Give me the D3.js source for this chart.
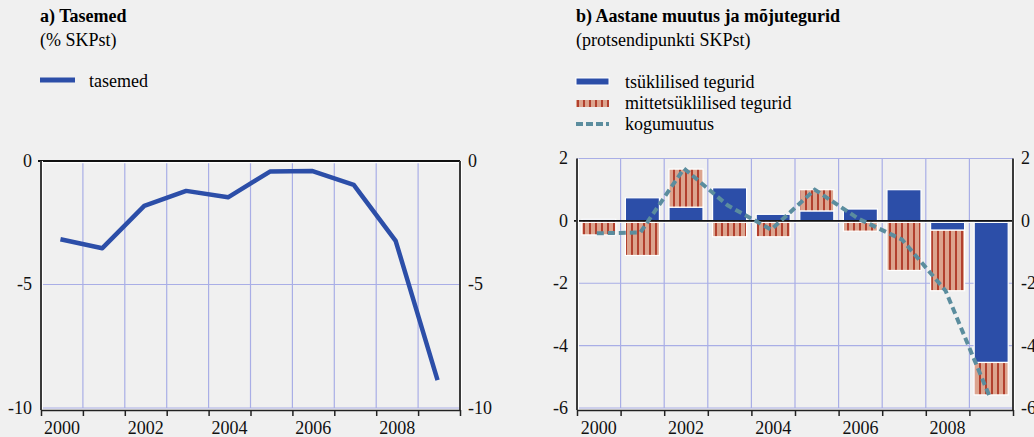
<!DOCTYPE html>
<html>
<head>
<meta charset="utf-8">
<script src="https://cdn.jsdelivr.net/npm/d3@7"></script>
<style>
  body { margin: 0; background: #f0f0f0; }
  svg { display: block; font-family: "Liberation Serif", "Times New Roman", serif; }
</style>
</head>
<body>
<div id="chart"></div>
<script>
// data
var years = [2000, 2001, 2002, 2003, 2004, 2005, 2006, 2007, 2008, 2009];
var yearLabels = [2000, 2002, 2004, 2006, 2008];
var tasemed = [-3.17, -3.53, -1.82, -1.21, -1.47, -0.43, -0.40, -0.97, -3.23, -8.87];
var tsyklilised = [0.05, 0.74, 0.44, 1.06, 0.21, 0.32, 0.38, 1.00, -0.30, -4.54];
var mittetsyklilised = [-0.45, -1.11, 1.22, -0.51, -0.51, 0.68, -0.33, -1.59, -1.94, -1.04];
var kogumuutus = [-0.40, -0.37, 1.68, 0.50, -0.28, 1.00, 0.07, -0.60, -2.24, -5.60];
var leftTicks = [0, -5, -10];
var rightTicks = [2, 0, -2, -4, -6];

var blue = "#2c4ea8",
    grid = "#a9aee6",
    dash = "#5b8d9e";

var svg = d3.select("#chart")
  .append("svg")
    .attr("width", 1034)
    .attr("height", 437);

// hatch for the non-cyclical bars
var pat = svg.append("defs").append("pattern")
    .attr("id", "hatch")
    .attr("patternUnits", "userSpaceOnUse")
    .attr("width", 6)
    .attr("height", 6);
pat.append("rect").attr("width", 6).attr("height", 6).attr("fill", "#dca48e");
pat.append("rect").attr("x", 1).attr("width", 2).attr("height", 6).attr("fill", "#b2402e");

// shared frame drawing: grid, side axes, bottom axis with year labels
function frame(g, x, xl, y, ticks, x0, x1, yTop, yBot) {
  // vertical grid at category boundaries
  g.append("g").selectAll("line")
    .data(d3.range(2001, 2010))
    .enter().append("line")
      .attr("x1", function(d) { return xl(d); })
      .attr("x2", function(d) { return xl(d); })
      .attr("y1", yTop)
      .attr("y2", yBot)
      .attr("stroke", grid)
      .attr("stroke-width", 1.2);

  g.append("g").selectAll("line")
    .data(ticks.filter(function(d) { return d != 0; }))
    .enter().append("line")
      .attr("x1", x0)
      .attr("x2", x1)
      .attr("y1", function(d) { return y(d); })
      .attr("y2", function(d) { return y(d); })
      .attr("stroke", grid)
      .attr("stroke-width", 1.2);
}

function sideAxes(g, xl, y, ticks, x0, x1, yTop, yBot) {
  var axisY = yBot + 2;
  [x0, x1].forEach(function(xx) {
    g.append("line")
      .attr("x1", xx + 1.5).attr("x2", xx + 1.5)
      .attr("y1", yTop).attr("y2", axisY)
      .attr("stroke", "#ffffff").attr("stroke-width", 1);
    g.append("line")
      .attr("x1", xx).attr("x2", xx)
      .attr("y1", yTop).attr("y2", axisY)
      .attr("stroke", "#3a3a3a").attr("stroke-width", 2);
  });

  // bottom axis
  var bottom = g.append("g")
      .attr("transform", "translate(0," + axisY + ")")
      .call(d3.axisBottom(xl).tickValues(d3.range(2000, 2011)).tickFormat("").tickSize(6).tickSizeOuter(0));
  bottom.select(".domain").attr("stroke", "#222").attr("stroke-width", 1.5);
  bottom.selectAll(".tick line").attr("stroke", "#222").attr("stroke-width", 1.5);

  g.append("g").selectAll("text")
    .data(yearLabels)
    .enter().append("text")
      .attr("x", function(d) { return xl(d + 0.5); })
      .attr("y", 434)
      .attr("text-anchor", "middle")
      .style("font-size", "18px")
      .attr("fill", "#111")
      .text(function(d) { return d; });

  // y labels on both sides
  g.append("g").selectAll("text")
    .data(ticks)
    .enter().append("text")
      .attr("x", x0 - 9)
      .attr("y", function(d) { return y(d); })
      .attr("dy", "0.33em")
      .attr("text-anchor", "end")
      .style("font-size", "18px")
      .attr("fill", "#111")
      .text(function(d) { return d; });

  g.append("g").selectAll("text")
    .data(ticks)
    .enter().append("text")
      .attr("x", x1 + 8)
      .attr("y", function(d) { return y(d); })
      .attr("dy", "0.33em")
      .style("font-size", "18px")
      .attr("fill", "#111")
      .text(function(d) { return d; });
}

function zeroLine(g, y, x0, x1) {
  g.append("line")
    .attr("x1", x0).attr("x2", x1)
    .attr("y1", y(0) + 1.6).attr("y2", y(0) + 1.6)
    .attr("stroke", "#ffffff").attr("stroke-width", 1.2);
  g.append("line")
    .attr("x1", x0 - 3).attr("x2", x1)
    .attr("y1", y(0)).attr("y2", y(0))
    .attr("stroke", "#111").attr("stroke-width", 1.8);
}

// ---------- a) Tasemed ----------
var L = {x0: 41, x1: 460, yTop: 161, yBot: 408};
var xa = d3.scaleBand().domain(years).range([L.x0, L.x1]);
var xal = d3.scaleLinear().domain([2000, 2010]).range([L.x0, L.x1]);
var ya = d3.scaleLinear().domain([-10, 0]).range([L.yBot, L.yTop]);

var ga = svg.append("g");
frame(ga, xa, xal, ya, leftTicks, L.x0, L.x1, L.yTop, L.yBot);

ga.append("path")
  .datum(tasemed)
  .attr("fill", "none")
  .attr("stroke", blue)
  .attr("stroke-width", 4.5)
  .attr("stroke-linejoin", "round")
  .attr("d", d3.line()
    .x(function(d, i) { return xa(years[i]) + xa.bandwidth() / 2 - 1.5; })
    .y(function(d) { return ya(d); }));

zeroLine(ga, ya, L.x0, L.x1);
sideAxes(ga, xal, ya, leftTicks, L.x0, L.x1, L.yTop, L.yBot);

ga.append("text").attr("x", 40).attr("y", 22)
  .style("font-size", "18px").style("font-weight", "bold").text("a) Tasemed");
ga.append("text").attr("x", 40).attr("y", 46)
  .style("font-size", "18px").text("(% SKPst)");
ga.append("line").attr("x1", 40).attr("x2", 75).attr("y1", 80).attr("y2", 80)
  .attr("stroke", blue).attr("stroke-width", 5);
ga.append("text").attr("x", 89).attr("y", 87)
  .style("font-size", "18px").text("tasemed");

// ---------- b) Aastane muutus ja mõjutegurid ----------
var R = {x0: 577, x1: 1013, yTop: 158.5, yBot: 408};
var xb = d3.scaleBand().domain(years).range([R.x0, R.x1]).paddingInner(0.22).paddingOuter(0.11);
var xbl = d3.scaleLinear().domain([2000, 2010]).range([R.x0, R.x1]);
var yb = d3.scaleLinear().domain([-6, 2]).range([R.yBot, R.yTop]);

var gb = svg.append("g");
frame(gb, xb, xbl, yb, rightTicks, R.x0, R.x1, R.yTop, R.yBot);

var table = years.map(function(yr, i) {
  return {year: yr, tsy: tsyklilised[i], mitte: mittetsyklilised[i]};
});
var series = d3.stack().keys(["tsy", "mitte"]).offset(d3.stackOffsetDiverging)(table);
var fills = {tsy: blue, mitte: "url(#hatch)"};

gb.append("g")
  .selectAll("g")
  .data(series)
  .enter().append("g")
    .attr("fill", function(d) { return fills[d.key]; })
  .selectAll("rect")
  .data(function(d) { return d; })
  .enter().append("rect")
    .attr("x", function(d) { return xb(d.data.year); })
    .attr("y", function(d) { return yb(Math.max(d[0], d[1])); })
    .attr("width", xb.bandwidth())
    .attr("height", function(d) { return Math.abs(yb(d[0]) - yb(d[1])); })
    .attr("stroke", "#ffffff")
    .attr("stroke-width", 1.2);

zeroLine(gb, yb, R.x0, R.x1);

gb.append("path")
  .datum(kogumuutus)
  .attr("fill", "none")
  .attr("stroke", dash)
  .attr("stroke-width", 4)
  .attr("stroke-dasharray", "7,4")
  .attr("d", d3.line()
    .x(function(d, i) { return xb(years[i]) + xb.bandwidth() / 2 - 2; })
    .y(function(d) { return yb(d); }));

sideAxes(gb, xbl, yb, rightTicks, R.x0, R.x1, R.yTop, R.yBot);

gb.append("text").attr("x", 576).attr("y", 22)
  .style("font-size", "18px").style("font-weight", "bold").text("b) Aastane muutus ja mõjutegurid");
gb.append("text").attr("x", 576).attr("y", 46)
  .style("font-size", "18px").text("(protsendipunkti SKPst)");

gb.append("rect").attr("x", 576).attr("y", 78).attr("width", 33).attr("height", 7)
  .attr("fill", blue).attr("stroke", "#fff").attr("stroke-width", 1);
gb.append("rect").attr("x", 576).attr("y", 100).attr("width", 33).attr("height", 7)
  .attr("fill", "url(#hatch)");
gb.append("line").attr("x1", 576).attr("x2", 609).attr("y1", 124).attr("y2", 124)
  .attr("stroke", dash).attr("stroke-width", 4).attr("stroke-dasharray", "7,3");

gb.append("text").attr("x", 625).attr("y", 88).style("font-size", "18px").text("tsüklilised tegurid");
gb.append("text").attr("x", 625).attr("y", 109).style("font-size", "18px").text("mittetsüklilised tegurid");
gb.append("text").attr("x", 625).attr("y", 130).style("font-size", "18px").text("kogumuutus");
</script>
</body>
</html>
